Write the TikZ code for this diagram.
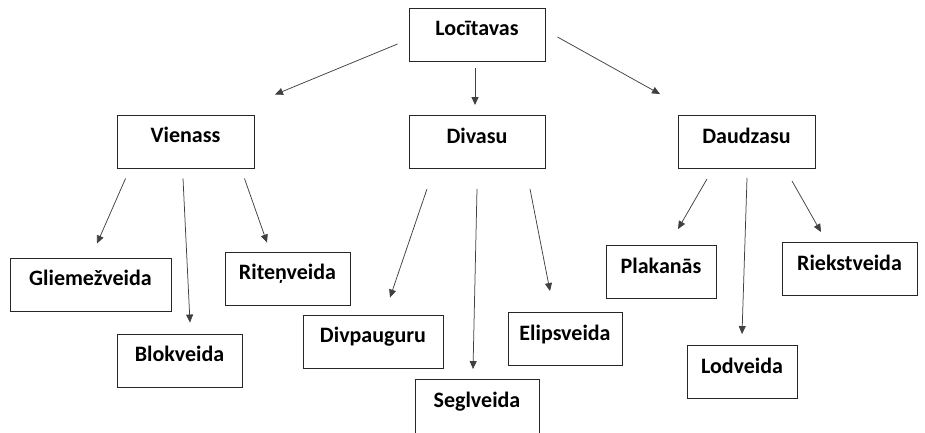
\documentclass[tikz,border=0pt]{standalone}
\usepackage{fontspec}
\setmainfont{Carlito}
\usepackage{tikz}
\usetikzlibrary{arrows.meta,calc}

\begin{document}
\begin{tikzpicture}[
  x=1pt,y=-1pt,
  font=\fontsize{22}{26}\selectfont\bfseries,
  box/.style={draw=black!85,line width=0.9pt,inner xsep=0pt,inner ysep=0pt,text height=27.5pt,text depth=25.5pt},
  arr/.style={-{Triangle[length=8pt,width=7pt]},line width=0.75pt,black!75}
]
\useasboundingbox (0,0) rectangle (925,433);
% top level
\node[box,minimum width=136pt] (loc) at (477,34.5) {Locītavas};
% second level
\node[box,minimum width=137pt] (vien) at (185.5,141.5) {Vienass};
\node[box,minimum width=136pt] (div) at (477,142) {Divasu};
\node[box,minimum width=137pt] (daud) at (746.5,142) {Daudzasu};
% third level
\node[box,minimum width=161pt] (glie) at (90.5,284.5) {Gliemežveida};
\node[box,minimum width=125pt] (blok) at (179.5,360.5) {Blokveida};
\node[box,minimum width=125pt] (rit) at (287.5,278.5) {Riteņveida};
\node[box,minimum width=140pt] (divp) at (373,341.5) {Divpauguru};
\node[box,minimum width=124pt,text depth=29.5pt] (segl) at (477,408) {Seglveida};
\node[box,minimum width=114pt] (elip) at (565,339) {Elipsveida};
\node[box,minimum width=110pt] (plak) at (661,272) {Plakanās};
\node[box,minimum width=110pt] (lod) at (742,372) {Lodveida};
\node[box,minimum width=135pt] (riek) at (849.5,269) {Riekstveida};
% arrows
\foreach \s/\sx/\sy/\t/\tx/\ty in {
  loc.west/-11/9.5/vien.north/89.5/-20,
  loc.south/-2/7/div.north/-2/-10,
  loc.east/12/2.5/daud.north/-86.5/-21,
  vien.south west/9/10/glie.north/6.5/-14,
  vien.south/-2.5/10/blok.north/10.5/-11,
  vien.south east/-10/10/rit.north/-20.5/-9,
  div.south/-50/20/divp.north/17/-17,
  div.south/0/20/segl.north/-4/-10,
  div.south/53/20/elip.north/-15/-21,
  daud.south/-39.5/10/plak.north/17/-16,
  daud.south/0.5/9/lod.north/0/-11,
  daud.south/45.5/12/riek.north/-28.5/-10}
  \draw[arr] ($(\s)+(\sx,\sy)$) -- ($(\t)+(\tx,\ty)$);
\end{tikzpicture}
\end{document}
